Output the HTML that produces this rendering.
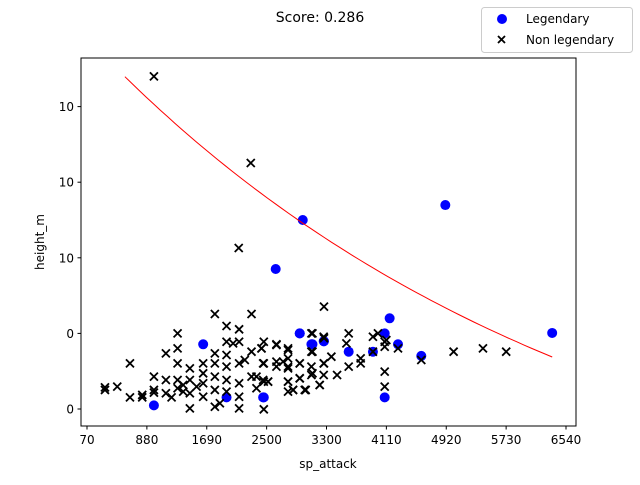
<!DOCTYPE html>
<html><head><meta charset="utf-8"><style>
body{margin:0;background:#fff;font-family:"Liberation Sans","DejaVu Sans",sans-serif}
svg text{font-family:"DejaVu Sans","Liberation Sans",sans-serif}
</style></head><body>
<svg id="chart" width="640" height="480" xmlns="http://www.w3.org/2000/svg">
<rect width="640" height="480" fill="#fff"/>
<text x="320" y="22" font-size="14" text-anchor="middle">Score: 0.286</text>
<g id="plot"></g>
<rect x="81" y="58" width="495" height="368" fill="none" stroke="#000" stroke-width="1"/>
<text x="328" y="468" font-size="12" text-anchor="middle">sp_attack</text>
<text x="0" y="0" font-size="12" text-anchor="middle" transform="translate(44,242) rotate(-90)">height_m</text>
<g>
<rect x="481.5" y="7.5" width="151" height="45" rx="3" fill="#fff" stroke="#ccc"/>
<circle cx="502" cy="19" r="5" fill="#0000ff"/>
<text x="526" y="23" font-size="12">Legendary</text>
<path d="M498,36 l7,7 M505,36 l-7,7" stroke="#000" stroke-width="1.8"/>
<text x="526" y="44" font-size="12">Non legendary</text>
</g>
</svg>
<script>
const xTickValues=[70,879.75,1689.5,2499.25,3309,4118.75,4928.5,5738.25,6548];
const xTickLabels=["70","880","1690","2500","3300","4110","4920","5730","6540"];
const yTickValues=[0,5,10,15,20];
const yTickLabels=["0","0","10","10","10"];
const legX=[2461,2947,3105,3271,3609,3937,4096,4163,4276,4096,4591,6361,975,1641,1957,2452,2947,3119,3275,2988,2622,4916];
const legY=[0.77,5.0,4.28,4.48,3.79,3.79,5.0,6.0,4.28,0.77,3.51,5.03,0.24,4.28,0.77,0.77,5.0,4.28,4.48,12.5,9.26,13.49];
const nonX=[313,313,479,651,651,817,817,975,975,975,1137,1137,1137,1214,1295,1295,1295,1295,1295,1371,1371,1461,1461,1461,1461,1552,1641,1641,1641,1641,1799,1799,1799,1799,1799,1799,1867,1957,1957,1957,1957,1957,1957,2046,2127,2127,2127,2127,2127,2127,2204,2295,2295,2295,2362,2430,2452,2452,2519,2632,2632,2789,2789,2789,2789,2857,2947,2947,3028,3119,3119,3119,3217,3275,3275,3275,
2362,2430,2461,2461,2461,2519,2632,2632,2722,2789,2789,2789,2789,2857,2947,2947,3015,3105,3105,3105,3105,3217,3271,3271,3271,3375,3452,3578,3609,3609,3771,3771,3937,3937,4005,4096,4096,4096,4096,4118,4276,4591,5028,5425,5739,2461,975,2285,2122];
const nonY=[1.43,1.26,1.48,3.02,0.77,0.93,0.77,2.14,1.26,1.08,3.68,1.92,1.04,0.77,5.0,4.01,3.02,1.92,1.37,1.59,1.15,2.69,1.92,1.04,0.04,1.48,3.02,2.36,1.7,0.81,6.28,3.68,3.02,2.14,1.26,0.15,0.38,5.49,4.45,3.57,2.8,1.92,1.15,4.34,5.27,4.45,3.02,1.7,0.81,0.04,3.24,6.28,3.79,2.14,1.37,4.01,3.02,1.92,1.81,4.23,3.13,3.9,2.69,1.81,1.15,1.26,3.02,2.03,1.26,5.0,3.79,2.36,1.59,4.68,6.77,3.02,
2.14,4.01,4.45,3.02,1.81,1.81,4.28,2.8,3.13,4.01,3.35,2.8,1.81,1.26,3.02,2.03,1.26,5.0,3.79,2.8,2.25,1.59,4.78,3.02,2.25,3.46,2.25,4.34,5.0,2.8,3.35,3.02,3.79,4.78,5.0,4.12,4.45,2.47,1.48,4.56,4.01,3.24,3.79,4.01,3.79,-0.02,22.0,16.27,10.65];
const fitA=34.9, fitB=0.00015, fitC=-10, fitX0=583, fitX1=6361;
const X0=87,X1=566,XV0=70,XV1=6548,Y0=409,PXPER=15.12;
const sx=v=>X0+(v-XV0)*(X1-X0)/(XV1-XV0);
const sy=v=>Y0-v*PXPER;
const NS="http://www.w3.org/2000/svg";
const plot=document.getElementById('plot');
function mk(t,a){const e=document.createElementNS(NS,t);for(const k in a)e.setAttribute(k,a[k]);plot.appendChild(e);return e;}
xTickValues.forEach((v,i)=>{
  const l=mk('line',{x1:sx(v),x2:sx(v),y1:426,y2:429.5,stroke:'#000'});
  
  
  const t=mk('text',{x:sx(v),y:444,'font-size':12,'text-anchor':'middle'});t.textContent=xTickLabels[i];
  
  
});
yTickValues.forEach((v,i)=>{
  const l=mk('line',{x1:77.5,x2:81,y1:sy(v),y2:sy(v),stroke:'#000'});
  
  
  const t=mk('text',{x:74,y:sy(v)+4.5,'font-size':12,'text-anchor':'end'});t.textContent=yTickLabels[i];
  
  
});
legX.forEach((v,i)=>{
  const c=mk('circle',{cx:sx(v),cy:sy(legY[i]),r:5,fill:'#0000ff'});
  
  
});
nonX.forEach((v,i)=>{
  const x=sx(v),y=sy(nonY[i]);
  const p=mk('path',{d:`M${x-4},${y-4}L${x+4},${y+4}M${x+4},${y-4}L${x-4},${y+4}`,stroke:'#000','stroke-width':1.8});
  
  
});
let d='';
for(let k=0;k<=60;k++){const v=fitX0+(fitX1-fitX0)*k/60;const y=fitA*Math.exp(-fitB*v)+fitC;d+=(k?'L':'M')+sx(v).toFixed(1)+','+sy(y).toFixed(1);}
const fl=mk('path',{d:d,fill:'none',stroke:'#ff0000','stroke-width':1});


</script>
</body></html>
